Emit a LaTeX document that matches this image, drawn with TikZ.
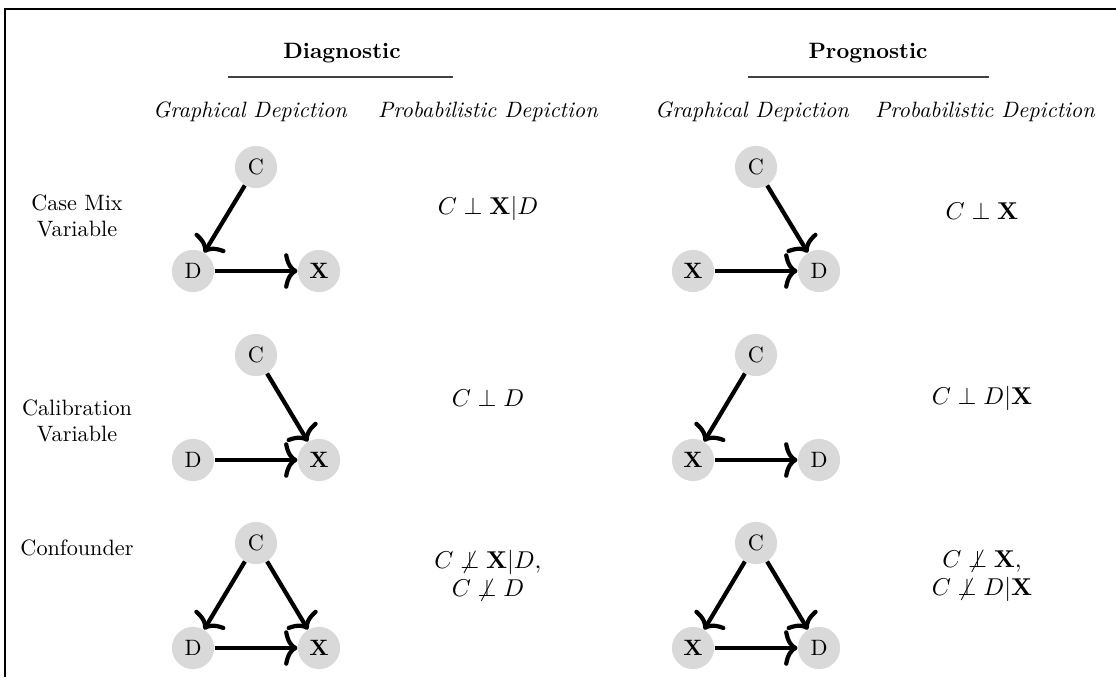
\documentclass[tikz,border=0pt]{standalone}
\usepackage{amsmath}
\usetikzlibrary{arrows.meta}
\begin{document}
\begin{tikzpicture}[x=0.45pt,y=-0.45pt,
  var/.style={circle,fill=black!15,inner sep=0pt,minimum size=19pt},
  link/.style={line width=1.9pt,-{To[length=6pt,width=16pt,line width=1.9pt]}},
  rowlabel/.style={align=center,font=\normalsize},
  colhead/.style={font=\itshape},
  expr/.style={align=center,font=\fontsize{11.4}{12.6}\selectfont},
  rule/.style={line width=0.7pt,black!75}]
\useasboundingbox (0,0) rectangle (1116,677);
% frame edges
\draw[line width=0.9pt] (5,677) -- (5,9) -- (1116,9);

% section headings
\node[font=\bfseries] (hdiag) at (342,53) {Diagnostic};
\node[font=\bfseries] (hprog) at (868,53) {Prognostic};
\coordinate (dl) at (228,77); \coordinate (dr) at (453,77);
\coordinate (pl) at (748,77); \coordinate (pr) at (989,77);
\draw[rule] (dl) -- (dr);
\draw[rule] (pl) -- (pr);
\node[colhead] (g1) at (250,112) {Graphical Depiction};
\node[colhead] (p1) at (488,112) {Probabilistic Depiction};
\node[colhead] (g2) at (752,112) {Graphical Depiction};
\node[colhead] (p2) at (985,112) {Probabilistic Depiction};

% row labels
\node[rowlabel] (r1) at (77,216) {Case Mix\\Variable};
\node[rowlabel] (r2) at (77,421) {Calibration\\Variable};
\node[rowlabel] (r3) at (77,548) {Confounder};

% diagnostic graphs
\node[var] (c1) at (256,167) {C};
\node[var] (d1) at (193,271) {D};
\node[var] (x1) at (319,271) {$\mathbf{X}$};
\draw[link] (c1) -- (d1);
\draw[link] (d1) -- (x1);

\node[var] (c2) at (256,355) {C};
\node[var] (d2) at (193,460) {D};
\node[var] (x2) at (319,460) {$\mathbf{X}$};
\draw[link] (c2) -- (x2);
\draw[link] (d2) -- (x2);

\node[var] (c3) at (256,543) {C};
\node[var] (d3) at (193,648) {D};
\node[var] (x3) at (319,648) {$\mathbf{X}$};
\draw[link] (c3) -- (d3);
\draw[link] (c3) -- (x3);
\draw[link] (d3) -- (x3);

% prognostic graphs
\node[var] (c4) at (756,167) {C};
\node[var] (x4) at (693,271) {$\mathbf{X}$};
\node[var] (d4) at (819,271) {D};
\draw[link] (c4) -- (d4);
\draw[link] (x4) -- (d4);

\node[var] (c5) at (756,355) {C};
\node[var] (x5) at (693,460) {$\mathbf{X}$};
\node[var] (d5) at (819,460) {D};
\draw[link] (c5) -- (x5);
\draw[link] (x5) -- (d5);

\node[var] (c6) at (756,543) {C};
\node[var] (x6) at (693,648) {$\mathbf{X}$};
\node[var] (d6) at (819,648) {D};
\draw[link] (c6) -- (x6);
\draw[link] (c6) -- (d6);
\draw[link] (x6) -- (d6);

% probabilistic statements
\node[expr] (e1) at (488,208) {$C \perp \mathbf{X}|D$};
\node[expr] (e2) at (982,211) {$C \perp \mathbf{X}$};
\node[expr] (e3) at (488,398) {$C \perp D$};
\node[expr] (e4) at (982,398) {$C \perp D|\mathbf{X}$};
\node[expr] (e5) at (488,576) {$C \not\perp \mathbf{X}|D,$\\$C \not\perp D$};
\node[expr] (e6) at (982,576) {$C \not\perp \mathbf{X},$\\$C \not\perp D|\mathbf{X}$};
\end{tikzpicture}
\end{document}
